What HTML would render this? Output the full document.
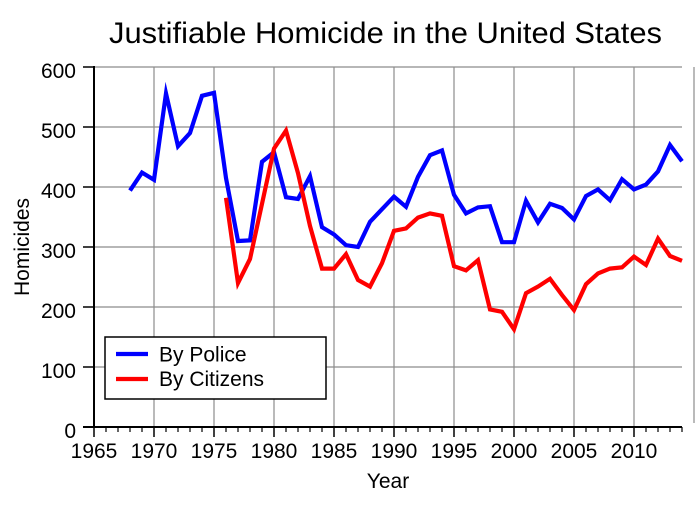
<!DOCTYPE html>
<html>
<head>
<meta charset="utf-8">
<style>
  html, body { margin: 0; padding: 0; background: #ffffff; }
  svg { display: block; }
  text { font-family: "Liberation Sans", Arial, sans-serif; fill: #000; }
</style>
</head>
<body>
<svg width="698" height="512" viewBox="0 0 698 512" xmlns="http://www.w3.org/2000/svg">
  <rect x="0" y="0" width="698" height="512" fill="#ffffff"/>

  <!-- Title -->
  <text x="109" y="43" font-size="30" textLength="553" lengthAdjust="spacingAndGlyphs">Justifiable Homicide in the United States</text>

  <!-- Grid lines -->
  <g stroke="#8c8c8c" stroke-width="1.2" fill="none">
    <line x1="94" y1="67" x2="682" y2="67"/>
    <line x1="94" y1="127" x2="682" y2="127"/>
    <line x1="94" y1="187" x2="682" y2="187"/>
    <line x1="94" y1="247" x2="682" y2="247"/>
    <line x1="94" y1="307" x2="682" y2="307"/>
    <line x1="94" y1="367" x2="682" y2="367"/>
    <line x1="154" y1="67" x2="154" y2="427"/>
    <line x1="214" y1="67" x2="214" y2="427"/>
    <line x1="274" y1="67" x2="274" y2="427"/>
    <line x1="334" y1="67" x2="334" y2="427"/>
    <line x1="394" y1="67" x2="394" y2="427"/>
    <line x1="454" y1="67" x2="454" y2="427"/>
    <line x1="514" y1="67" x2="514" y2="427"/>
    <line x1="574" y1="67" x2="574" y2="427"/>
    <line x1="634" y1="67" x2="634" y2="427"/>
    <line x1="694" y1="67" x2="694" y2="423"/>
  </g>

  <!-- Data: By Police -->
  <polyline fill="none" stroke="#0000ff" stroke-width="4.2" stroke-linejoin="miter" stroke-miterlimit="10"
    points="130,190.6 142,172.6 154,179.8 166,93.4 178,146.2 190,133 202,95.8 214,92.8 226,178 238,241 250,240.4 262,161.8 274,152.2 286,197.2 298,199 310,176.2 322,227.2 334,234.4 346,245.2 358,247 370,221.8 382,209.2 394,196.6 406,206.8 418,176.8 430,155.2 442,150.4 454,194.8 466,213.4 478,207.4 490,206.2 502,242.2 514,242.2 526,200.8 538,222.4 550,203.8 562,208 574,219.4 586,196 598,189.4 610,200.2 622,179.2 634,189.4 646,184.6 658,171.4 670,145 682,161.2"/>

  <!-- Data: By Citizens -->
  <polyline fill="none" stroke="#ff0000" stroke-width="4.2" stroke-linejoin="miter" stroke-miterlimit="10"
    points="226,197.8 238,283 250,259 262,203.8 274,148.6 286,130.6 298,173.2 310,226 322,268.6 334,268.6 346,254.2 358,280 370,286.6 382,263.2 394,230.8 406,228.4 418,217.6 430,213.4 442,215.8 454,266.2 466,270.4 478,260.2 490,309.4 502,311.8 514,329.2 526,293.2 538,286.6 550,278.8 562,295 574,310 586,284.2 598,273.4 610,268.6 622,267.4 634,256.6 646,265 658,238.6 670,256 682,260.8"/>

  <!-- Axes -->
  <g stroke="#000" fill="none">
    <line x1="94" y1="66" x2="94" y2="428" stroke-width="2"/>
    <line x1="83" y1="427" x2="682" y2="427" stroke-width="2"/>
    <!-- y major ticks -->
    <g stroke-width="1.5">
      <line x1="83" y1="67" x2="94" y2="67"/>
      <line x1="83" y1="127" x2="94" y2="127"/>
      <line x1="83" y1="187" x2="94" y2="187"/>
      <line x1="83" y1="247" x2="94" y2="247"/>
      <line x1="83" y1="307" x2="94" y2="307"/>
      <line x1="83" y1="367" x2="94" y2="367"/>
    </g>
    <!-- x major ticks -->
    <g stroke-width="1.5">
      <line x1="94" y1="427" x2="94" y2="437"/>
      <line x1="154" y1="427" x2="154" y2="437"/>
      <line x1="214" y1="427" x2="214" y2="437"/>
      <line x1="274" y1="427" x2="274" y2="437"/>
      <line x1="334" y1="427" x2="334" y2="437"/>
      <line x1="394" y1="427" x2="394" y2="437"/>
      <line x1="454" y1="427" x2="454" y2="437"/>
      <line x1="514" y1="427" x2="514" y2="437"/>
      <line x1="574" y1="427" x2="574" y2="437"/>
      <line x1="634" y1="427" x2="634" y2="437"/>
    </g>
    <!-- x minor ticks -->
    <g stroke-width="1.2">
      <line x1="106" y1="427" x2="106" y2="432"/><line x1="118" y1="427" x2="118" y2="432"/><line x1="130" y1="427" x2="130" y2="432"/><line x1="142" y1="427" x2="142" y2="432"/>
      <line x1="166" y1="427" x2="166" y2="432"/><line x1="178" y1="427" x2="178" y2="432"/><line x1="190" y1="427" x2="190" y2="432"/><line x1="202" y1="427" x2="202" y2="432"/>
      <line x1="226" y1="427" x2="226" y2="432"/><line x1="238" y1="427" x2="238" y2="432"/><line x1="250" y1="427" x2="250" y2="432"/><line x1="262" y1="427" x2="262" y2="432"/>
      <line x1="286" y1="427" x2="286" y2="432"/><line x1="298" y1="427" x2="298" y2="432"/><line x1="310" y1="427" x2="310" y2="432"/><line x1="322" y1="427" x2="322" y2="432"/>
      <line x1="346" y1="427" x2="346" y2="432"/><line x1="358" y1="427" x2="358" y2="432"/><line x1="370" y1="427" x2="370" y2="432"/><line x1="382" y1="427" x2="382" y2="432"/>
      <line x1="406" y1="427" x2="406" y2="432"/><line x1="418" y1="427" x2="418" y2="432"/><line x1="430" y1="427" x2="430" y2="432"/><line x1="442" y1="427" x2="442" y2="432"/>
      <line x1="466" y1="427" x2="466" y2="432"/><line x1="478" y1="427" x2="478" y2="432"/><line x1="490" y1="427" x2="490" y2="432"/><line x1="502" y1="427" x2="502" y2="432"/>
      <line x1="526" y1="427" x2="526" y2="432"/><line x1="538" y1="427" x2="538" y2="432"/><line x1="550" y1="427" x2="550" y2="432"/><line x1="562" y1="427" x2="562" y2="432"/>
      <line x1="586" y1="427" x2="586" y2="432"/><line x1="598" y1="427" x2="598" y2="432"/><line x1="610" y1="427" x2="610" y2="432"/><line x1="622" y1="427" x2="622" y2="432"/>
      <line x1="646" y1="427" x2="646" y2="432"/><line x1="658" y1="427" x2="658" y2="432"/><line x1="670" y1="427" x2="670" y2="432"/><line x1="682" y1="427" x2="682" y2="432"/>
    </g>
  </g>

  <!-- Y tick labels -->
  <g font-size="21" text-anchor="end">
    <text x="76" y="78">600</text>
    <text x="76" y="138">500</text>
    <text x="76" y="198">400</text>
    <text x="76" y="258">300</text>
    <text x="76" y="318">200</text>
    <text x="76" y="378">100</text>
    <text x="76" y="438">0</text>
  </g>

  <!-- X tick labels -->
  <g font-size="21" text-anchor="middle">
    <text x="94" y="458">1965</text>
    <text x="154" y="458">1970</text>
    <text x="214" y="458">1975</text>
    <text x="274" y="458">1980</text>
    <text x="334" y="458">1985</text>
    <text x="394" y="458">1990</text>
    <text x="454" y="458">1995</text>
    <text x="514" y="458">2000</text>
    <text x="574" y="458">2005</text>
    <text x="634" y="458">2010</text>
  </g>

  <!-- Axis titles -->
  <text x="388" y="488" font-size="21" text-anchor="middle">Year</text>
  <text x="0" y="0" font-size="21" text-anchor="middle" transform="translate(29,247) rotate(-90)">Homicides</text>

  <!-- Legend -->
  <rect x="105" y="337" width="221" height="62" fill="#ffffff" stroke="#000" stroke-width="1.5"/>
  <line x1="116" y1="354" x2="148" y2="354" stroke="#0000ff" stroke-width="4.2"/>
  <line x1="116" y1="379" x2="148" y2="379" stroke="#ff0000" stroke-width="4.2"/>
  <text x="159" y="361.5" font-size="21">By Police</text>
  <text x="159" y="386" font-size="21">By Citizens</text>
</svg>
</body>
</html>
